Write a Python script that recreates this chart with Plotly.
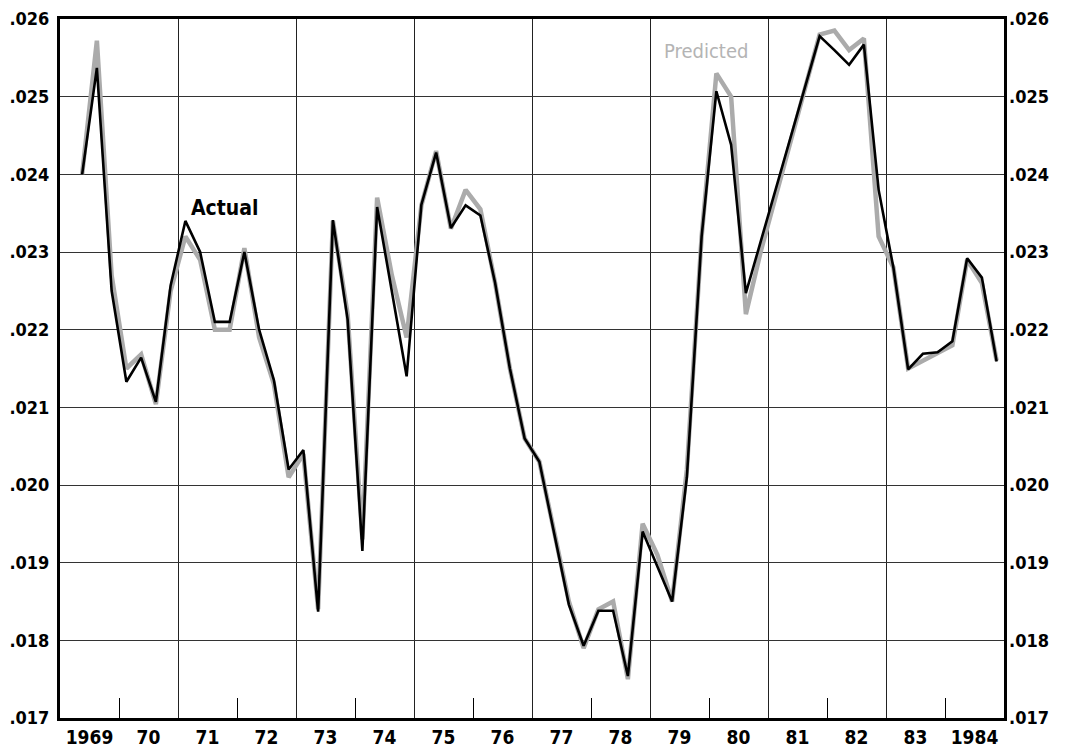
import plotly.graph_objects as go

# Quarterly series, 1969 Q2 through 1984 Q4
start_year = 1969
start_quarter = 2

actual = [
    0.02400, 0.02537, 0.02250, 0.02133, 0.02164, 0.02107, 0.02257, 0.02340,
    0.02300, 0.02210, 0.02210, 0.02300, 0.02200, 0.02135, 0.02020, 0.02045,
    0.01837, 0.02341, 0.02213, 0.01915, 0.02358, 0.02250, 0.02140, 0.02361,
    0.02428, 0.02331, 0.02360, 0.02347, 0.02260, 0.02150, 0.02060, 0.02030,
    0.01940, 0.01846, 0.01793, 0.01838, 0.01838, 0.01754, 0.01940, 0.01895,
    0.01850, 0.02010, 0.02320, 0.02507, 0.02438, 0.02247, 0.02313, 0.02379,
    0.02445, 0.02512, 0.02578, 0.02560, 0.02541, 0.02567, 0.02380, 0.02280,
    0.02149, 0.02169, 0.02171, 0.02185, 0.02292, 0.02267, 0.02159,
]

predicted = [
    0.02400, 0.02572, 0.02270, 0.02150, 0.02168, 0.02104, 0.02250, 0.02320,
    0.02290, 0.02200, 0.02200, 0.02305, 0.02190, 0.02130, 0.02010, 0.02040,
    0.01840, 0.02340, 0.02220, 0.01930, 0.02370, 0.02270, 0.02190, 0.02360,
    0.02430, 0.02330, 0.02380, 0.02355, 0.02260, 0.02150, 0.02060, 0.02030,
    0.01940, 0.01850, 0.01790, 0.01840, 0.01850, 0.01750, 0.01950, 0.01910,
    0.01850, 0.02020, 0.02320, 0.02530, 0.02500, 0.02220, 0.02300, 0.02370,
    0.02440, 0.02510, 0.02580, 0.02585, 0.02560, 0.02575, 0.02320, 0.02280,
    0.02150, 0.02160, 0.02170, 0.02180, 0.02290, 0.02260, 0.02160,
]

year_labels = ["1969", "70", "71", "72", "73", "74", "75", "76",
               "77", "78", "79", "80", "81", "82", "83", "1984"]
y_ticks = [0.017, 0.018, 0.019, 0.020, 0.021, 0.022, 0.023, 0.024, 0.025, 0.026]
y_tick_text = [".017", ".018", ".019", ".020", ".021", ".022", ".023", ".024", ".025", ".026"]

# Each point sits at the middle of its quarter
x_vals = []
for i in range(len(actual)):
    q = start_quarter - 1 + i
    x_vals.append(start_year + q // 4 + ((q % 4) + 0.5) / 4)

first_year = 1969
last_year = 1985
year_centers = [first_year + i + 0.5 for i in range(len(year_labels))]
grid_years = list(range(first_year + 2, last_year - 1, 2))   # full-height rules
tick_years = list(range(first_year + 1, last_year, 2))       # short ticks

y_font = dict(family="DejaVu Sans Condensed, DejaVu Sans", size=18,
              color="black", weight="bold")
x_font = dict(family="DejaVu Sans Condensed, DejaVu Sans", size=19,
              color="black", weight="bold")
note_family = "DejaVu Sans Condensed, DejaVu Sans"

fig = go.Figure()

fig.add_trace(go.Scatter(
    x=x_vals, y=predicted, mode="lines", name="Predicted",
    line=dict(color="#ababab", width=4.5), showlegend=False,
))
fig.add_trace(go.Scatter(
    x=x_vals, y=actual, mode="lines", name="Actual",
    line=dict(color="black", width=2.6), showlegend=False,
))
# Carrier trace for the secondary (tick-only) axes
fig.add_trace(go.Scatter(
    x=[None], y=[None], xaxis="x2", yaxis="y2", showlegend=False,
    hoverinfo="skip",
))

fig.update_layout(
    width=1065, height=752,
    margin=dict(l=60, r=61, t=19, b=34),
    paper_bgcolor="white", plot_bgcolor="white",
    xaxis=dict(
        range=[first_year, last_year], automargin=False,
        tickmode="array", tickvals=year_centers, ticktext=year_labels,
        ticks="", showgrid=False, zeroline=False,
        showline=True, linecolor="black", linewidth=3, mirror=True,
        tickfont=x_font, ticklabelstandoff=0,
        minor=dict(tickmode="array", tickvals=grid_years, showgrid=True,
                   gridcolor="#222222", gridwidth=1, ticks=""),
    ),
    xaxis2=dict(
        range=[first_year, last_year], overlaying="x", anchor="y", side="bottom",
        automargin=False,
        tickmode="array", tickvals=tick_years, ticks="inside", ticklen=20,
        tickwidth=1, tickcolor="black", showticklabels=False,
        showgrid=False, zeroline=False, showline=False,
    ),
    yaxis=dict(
        range=[0.017, 0.026], automargin=False,
        tickmode="array", tickvals=y_ticks,
        ticktext=y_tick_text, ticks="", showgrid=True, gridcolor="#333333",
        gridwidth=1, zeroline=False,
        showline=True, linecolor="black", linewidth=3, mirror=True,
        tickfont=y_font, ticklabelstandoff=4,
    ),
    yaxis2=dict(
        range=[0.017, 0.026], overlaying="y", anchor="x", side="right",
        automargin=False,
        tickmode="array", tickvals=y_ticks, ticktext=y_tick_text,
        ticks="", showgrid=False, zeroline=False, showline=False,
        tickfont=y_font, ticklabelstandoff=4,
    ),
    annotations=[
        dict(x=1971.8, y=0.02357, xref="x", yref="y", text="Actual",
             showarrow=False,
             font=dict(family=note_family, size=21, color="black",
                       weight="bold")),
        dict(x=1979.95, y=0.02559, xref="x", yref="y", text="Predicted",
             showarrow=False,
             font=dict(family=note_family, size=20, color="#b4b4b4",
                       weight="normal")),
    ],
)

fig.write_html("out.html")
